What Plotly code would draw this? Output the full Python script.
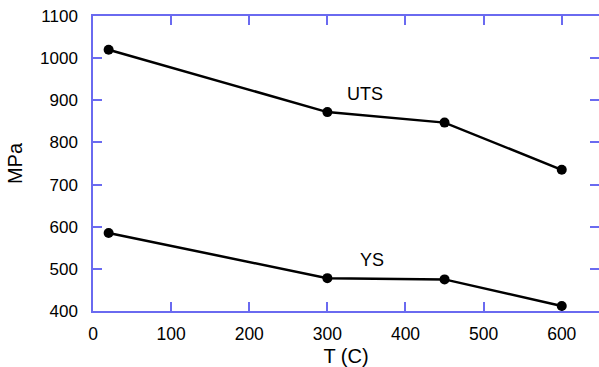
import plotly.graph_objects as go

temps = [20, 300, 450, 600]
uts = [1020, 872, 847, 735]
ys = [585, 478, 475, 412]
labels = ["UTS", "YS"]
label_x = [348, 357]
label_y = [916, 520]

axis_color = "#6a6af0"
font = "Liberation Sans, Arial, sans-serif"
yticks = [400, 500, 600, 700, 800, 900, 1000, 1100]

fig = go.Figure()
for vals in (uts, ys):
    fig.add_trace(go.Scatter(
        x=temps, y=vals, mode="lines+markers",
        line=dict(color="black", width=2.5),
        marker=dict(color="black", size=10),
        showlegend=False, cliponaxis=False))

# invisible trace to enable right-hand tick axis
fig.add_trace(go.Scatter(x=[temps[0]], y=[uts[0]], yaxis="y2", mode="markers",
                         marker=dict(opacity=0), showlegend=False, hoverinfo="skip"))

for t, lx, ly in zip(labels, label_x, label_y):
    fig.add_annotation(x=lx, y=ly, text=t, showarrow=False,
                       font=dict(family=font, size=18, color="black"))

fig.update_layout(
    width=599, height=367,
    margin=dict(l=93, r=0, t=16, b=56),
    paper_bgcolor="white", plot_bgcolor="white",
    font=dict(family=font, size=17, color="black"),
    xaxis=dict(
        range=[0, 647.7], tickvals=[0, 100, 200, 300, 400, 500, 600],
        showline=True, linecolor=axis_color, linewidth=1.5, mirror="ticks",
        ticks="inside", ticklen=9, tickwidth=1.5, tickcolor=axis_color,
        showgrid=False, zeroline=False, ticklabelstandoff=6, layer="below traces",
        tickfont=dict(size=17.5),
        title=dict(text="T (C)", font=dict(size=20), standoff=6),
    ),
    yaxis=dict(
        range=[400, 1100], tickvals=yticks,
        showline=True, linecolor=axis_color, linewidth=1.5, mirror=False,
        ticks="inside", ticklen=9, tickwidth=1.5, tickcolor=axis_color,
        showgrid=False, zeroline=False, ticklabelstandoff=10, layer="below traces",
        title=dict(text="MPa", font=dict(size=20), standoff=12),
    ),
    yaxis2=dict(overlaying="y", side="right", range=[400, 1100],
                tickvals=yticks,
                showline=False, showgrid=False, zeroline=False,
                ticks="inside", ticklen=9, tickwidth=1.5, tickcolor=axis_color,
                showticklabels=False, layer="below traces"),
)
fig.write_html("out.html")
